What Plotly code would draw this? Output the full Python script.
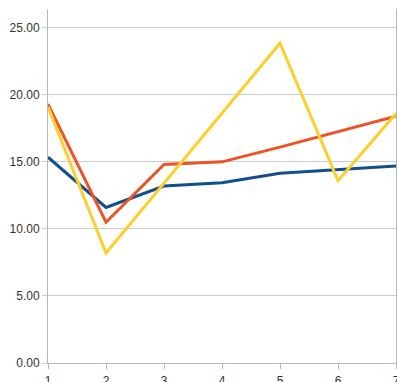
import plotly.graph_objects as go

x_vals = [1, 2, 3, 4, 5, 6, 7]
series_blue = [15.35, 11.6, 13.2, 13.45, 14.15, 14.45, 14.7]
series_orange = [19.3, 10.5, 14.8, 15.0, 16.1, 17.25, 18.4]
series_yellow = [19.1, 8.2, 13.4, 18.6, 23.85, 13.6, 18.6]
y_ticks = [0, 5, 10, 15, 20, 25]
y_tick_labels = ["0.00", "5.00", "10.00", "15.00", "20.00", "25.00"]

fig = go.Figure()
for vals, color in [(series_blue, "#134f8c"),
                    (series_orange, "#ee5325"),
                    (series_yellow, "#fbd02e")]:
    fig.add_trace(go.Scatter(x=x_vals, y=vals, mode="lines",
                             line=dict(color=color, width=3),
                             showlegend=False, cliponaxis=False))

fig.update_layout(
    width=397, height=382,
    margin=dict(l=48, r=1, t=9, b=19, autoexpand=False),
    paper_bgcolor="white", plot_bgcolor="white",
    font=dict(family="Liberation Sans, Arial", size=12, color="#333333"),
    xaxis=dict(range=[1, 7], tickvals=x_vals, showgrid=False,
               showline=True, linecolor="#b8b8b8", linewidth=1,
               ticks="outside", ticklen=5, tickcolor="#b8b8b8",
               ticklabeloverflow="allow", ticklabelstandoff=2,
               automargin=False, zeroline=False, fixedrange=True),
    yaxis=dict(range=[0, 26.4], tickvals=y_ticks, ticktext=y_tick_labels,
               showgrid=True, gridcolor="#cccccc", gridwidth=1,
               showline=True, linecolor="#b8b8b8", linewidth=1, mirror=True,
               ticks="outside", ticklen=5, tickcolor="#cccccc",
               automargin=False, zeroline=False, fixedrange=True),
)

fig.write_html("out.html", config={"displayModeBar": False})
